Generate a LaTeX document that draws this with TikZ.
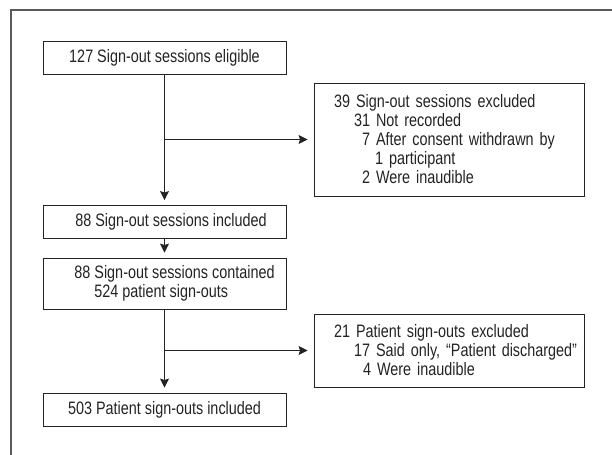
\documentclass[tikz,border=0pt]{standalone}
\usepackage{fontspec}
\setmainfont[FakeStretch=0.8]{Liberation Sans}
\usetikzlibrary{arrows.meta, positioning, calc}
\definecolor{linecolor}{RGB}{35,35,35}
\definecolor{framecolor}{RGB}{90,90,90}

\begin{document}
\begin{tikzpicture}[
    x=1bp, y=-1bp,
    every node/.style={font=\fontsize{18bp}{19bp}\selectfont, text=linecolor},
    mainbox/.style={draw=linecolor, line width=0.9bp, minimum width=243bp, minimum height=33bp, inner sep=0pt},
    sidebox/.style={draw=linecolor, line width=0.9bp, text width=230bp, inner xsep=20bp, inner ysep=0pt, align=left},
    flowarrow/.style={draw=linecolor, line width=0.9bp, -{Stealth[length=9bp, width=9bp, inset=1.5bp]}, shorten >=5bp}
]
    \useasboundingbox (0,0) rectangle (612,455);

    % frame
    \draw[framecolor, line width=1.2bp] (612,10) -- (11,10) -- (11,455);

    % main flow
    \node[mainbox] (eligible) at (164.5,57.5) {127 Sign-out sessions eligible};
    \node[mainbox] (included) at (164.5,222) {\hspace*{13bp}88 Sign-out sessions included};
    \node[mainbox, minimum height=51bp, align=left] (contained) at (164.5,283.5) {\hspace*{20bp}88 Sign-out sessions contained\\\hspace*{40bp}524 patient sign-outs};
    \node[mainbox] (final) at (164.5,409.5) {503 Patient sign-outs included};

    % exclusions
    \node[sidebox, minimum height=113bp] (excluded1) at (449,139.5) {39 Sign-out sessions excluded\\\hspace*{20bp}31 Not recorded\\\hspace*{28bp}\mbox{7 After consent withdrawn by}\\\hspace*{41bp}1 participant\\\hspace*{28bp}2 Were inaudible};
    \node[sidebox, minimum height=73bp] (excluded2) at (449,350.5) {21 Patient sign-outs excluded\\\hspace*{20bp}\mbox{17 Said only, “Patient discharged”}\\\hspace*{29bp}4 Were inaudible};

    \coordinate (split1) at (eligible.south |- excluded1.west);
    \coordinate (split2) at (contained.south |- excluded2.west);

    \draw[flowarrow] (eligible.south) -- (included.north);
    \draw[flowarrow, shorten >=6bp] (split1) -- (excluded1.west);
    \draw[flowarrow] (included.south) -- (contained.north);
    \draw[flowarrow] (contained.south) -- (final.north);
    \draw[flowarrow, shorten >=6bp] (split2) -- (excluded2.west);
\end{tikzpicture}
\end{document}
